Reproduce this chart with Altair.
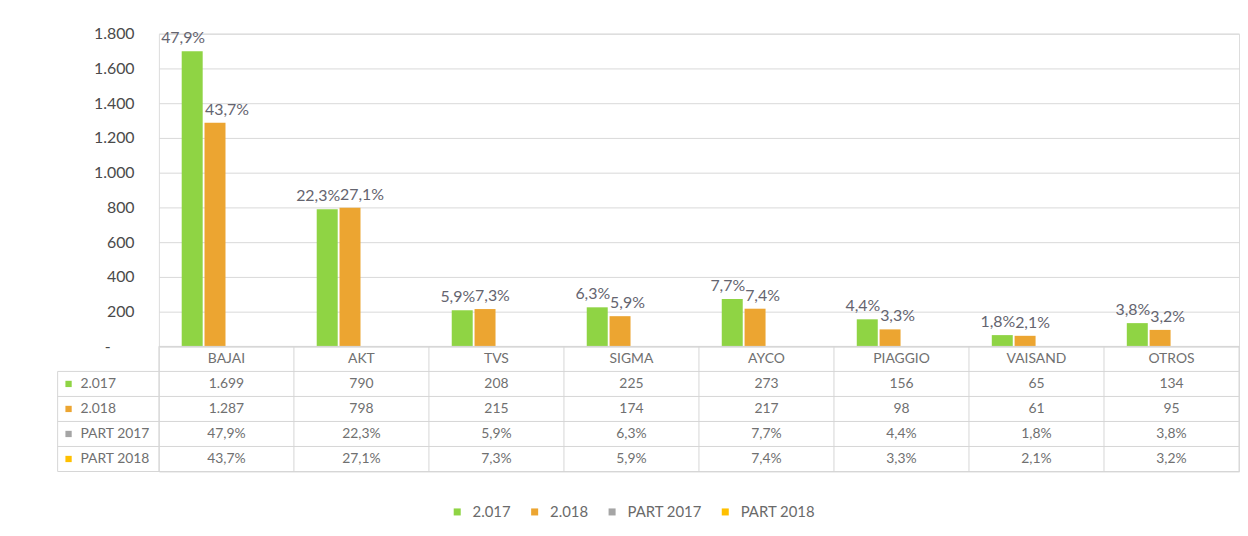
import altair as alt
import pandas as pd

categories = ["BAJAI", "AKT", "TVS", "SIGMA", "AYCO", "PIAGGIO", "VAISAND", "OTROS"]
series = ["2.017", "2.018", "PART 2017", "PART 2018"]
units_2017 = [1699, 790, 208, 225, 273, 156, 65, 134]
units_2018 = [1287, 798, 215, 174, 217, 98, 61, 95]
part_2017 = [47.9, 22.3, 5.9, 6.3, 7.7, 4.4, 1.8, 3.8]
part_2018 = [43.7, 27.1, 7.3, 5.9, 7.4, 3.3, 2.1, 3.2]
y_ticks = [0, 200, 400, 600, 800, 1000, 1200, 1400, 1600, 1800]
colors = ["#8fd444", "#eca531", "#a5a5a5", "#ffc000"]

FONT = "Lato"
W = 1088
H_BARS = 315
H_TABLE = 126
LEFT_COL = 102


def fmt_units(v):
    return f"{v:,}".replace(",", ".")


def fmt_pct(v):
    return f"{v:.1f}%".replace(".", ",")


bar_rows = []
for i, c in enumerate(categories):
    bar_rows.append({"cat": c, "series": series[0], "value": units_2017[i], "pct": fmt_pct(part_2017[i])})
    bar_rows.append({"cat": c, "series": series[1], "value": units_2018[i], "pct": fmt_pct(part_2018[i])})
bars_df = pd.DataFrame(bar_rows)

row_domain = ["header"] + series
table_rows = []
for i, c in enumerate(categories):
    table_rows.append({"cat": c, "row": "header", "txt": c})
    table_rows.append({"cat": c, "row": series[0], "txt": fmt_units(units_2017[i])})
    table_rows.append({"cat": c, "row": series[1], "txt": fmt_units(units_2018[i])})
    table_rows.append({"cat": c, "row": series[2], "txt": fmt_pct(part_2017[i])})
    table_rows.append({"cat": c, "row": series[3], "txt": fmt_pct(part_2018[i])})
table_df = pd.DataFrame(table_rows)
rows_df = pd.DataFrame({"row": series})
cats_df = pd.DataFrame({"cat": categories})

x_scale = alt.Scale(domain=categories, paddingInner=0, paddingOuter=0)
y_scale = alt.Scale(domain=[0, 1800], nice=False)
color_scale = alt.Scale(domain=series, range=colors)
off_scale = alt.Scale(domain=series, paddingInner=0.08, paddingOuter=1)

y_axis = alt.Axis(
    values=y_ticks,
    labelExpr="datum.value == 0 ? '-\u2800\u2800' : replace(format(datum.value, ','), ',', '.')",
    labelOverlap=False,
    labelBound=False,
    grid=True,
    gridColor="#d9d9d9",
    domain=False,
    ticks=False,
    title=None,
    labelPadding=25,
    labelFontSize=16,
    labelColor="#4a4a4a",
    labelFont=FONT,
)
y_enc = alt.Y("value:Q", scale=y_scale, axis=y_axis)

base = alt.Chart(bars_df)
x_enc = alt.X("cat:N", sort=categories, scale=x_scale, axis=None)
xoff_enc = alt.XOffset("series:N", scale=off_scale)

bars = base.mark_bar().encode(
    x=x_enc,
    xOffset=xoff_enc,
    y=y_enc,
    color=alt.Color(
        "series:N",
        scale=color_scale,
        legend=alt.Legend(
            title=None,
            orient="none",
            legendX=293,
            legendY=474,
            direction="horizontal",
            symbolType="square",
            symbolSize=50,
            labelFontSize=15,
            labelColor="#6a6a6a",
            labelFont=FONT,
            labelOffset=8,
            columnPadding=16,
        ),
    ),
)

lab17 = base.transform_filter(alt.datum.series == series[0]).mark_text(
    align="right", baseline="bottom", dy=-5, dx=13, fontSize=16, font=FONT, color="#64646f"
).encode(x=x_enc, xOffset=xoff_enc, y=y_enc, text="pct:N")

lab18 = base.transform_filter(alt.datum.series == series[1]).mark_text(
    align="left", baseline="bottom", dy=-5, dx=-10, fontSize=16, font=FONT, color="#64646f"
).encode(x=x_enc, xOffset=xoff_enc, y=y_enc, text="pct:N")

bar_view = alt.layer(bars, lab17, lab18).properties(width=W, height=H_BARS)

# ---- data table ----
row_scale = alt.Scale(domain=row_domain, paddingInner=0, paddingOuter=0)
y_row = alt.Y("row:N", sort=row_domain, scale=row_scale, axis=None)
x_tab = alt.X("cat:N", sort=categories, scale=x_scale, axis=None)
LINE = "#d6d6d6"

cells = alt.Chart(table_df).mark_text(fontSize=14, font=FONT, color="#707070").encode(
    x=x_tab, y=y_row, text="txt:N"
)

hlines = alt.Chart(rows_df).mark_rule(color=LINE, strokeWidth=1).encode(
    y=alt.Y("row:N", sort=row_domain, scale=row_scale, axis=None, bandPosition=0),
    x=alt.value(-LEFT_COL),
    x2=alt.value(W),
)
hline_bottom = alt.Chart(pd.DataFrame({"row": [series[-1]]})).mark_rule(color=LINE, strokeWidth=1).encode(
    y=alt.Y("row:N", sort=row_domain, scale=row_scale, axis=None, bandPosition=1),
    x=alt.value(-LEFT_COL),
    x2=alt.value(W),
)
hline_top = alt.Chart(pd.DataFrame({"row": ["header"]})).mark_rule(color=LINE, strokeWidth=1).encode(
    y=alt.Y("row:N", sort=row_domain, scale=row_scale, axis=None, bandPosition=0),
    x=alt.value(0),
    x2=alt.value(W),
)
vlines = alt.Chart(cats_df).mark_rule(color=LINE, strokeWidth=1).encode(
    x=alt.X("cat:N", sort=categories, scale=x_scale, axis=None, bandPosition=0),
    y=alt.value(0),
    y2=alt.value(H_TABLE),
)
vline_right = alt.Chart(pd.DataFrame({"cat": [categories[-1]]})).mark_rule(color=LINE, strokeWidth=1).encode(
    x=alt.X("cat:N", sort=categories, scale=x_scale, axis=None, bandPosition=1),
    y=alt.value(0),
    y2=alt.value(H_TABLE),
)
vline_left = alt.Chart(pd.DataFrame({"row": [series[0]]})).mark_rule(color=LINE, strokeWidth=1).encode(
    x=alt.value(-LEFT_COL),
    y=alt.Y("row:N", sort=row_domain, scale=row_scale, axis=None, bandPosition=0),
    y2=alt.value(H_TABLE),
)
row_labels = alt.Chart(rows_df).mark_text(align="left", fontSize=14, font=FONT, color="#707070").encode(
    x=alt.value(-79), y=y_row, text="row:N"
)
row_keys = alt.Chart(rows_df).mark_point(shape="square", filled=True, size=40, opacity=1).encode(
    x=alt.value(-91), y=y_row, color=alt.Color("row:N", scale=color_scale, legend=None)
)

table_view = alt.layer(
    hlines, hline_bottom, hline_top, vlines, vline_right, vline_left, cells, row_labels, row_keys
).properties(width=W, height=H_TABLE)

chart = (
    alt.vconcat(bar_view, table_view, spacing=0, bounds="flush")
    .properties(padding={"left": 49, "top": 15, "right": 0, "bottom": 0})
    .configure_view(stroke=None)
    .configure(font=FONT, background="white")
)

chart.save("out.html", embed_options={"renderer": "svg", "actions": False})
